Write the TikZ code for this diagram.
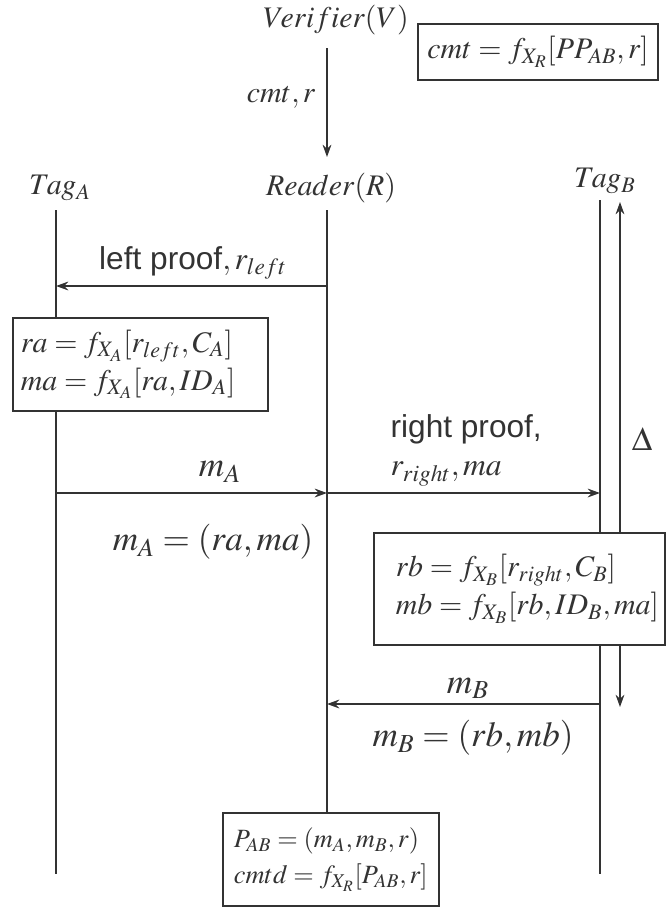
\documentclass[tikz,border=0pt]{standalone}
\usepackage{mathptmx}
\usepackage{fontspec}
\setsansfont{Liberation Sans}
\usetikzlibrary{arrows.meta}

\begin{document}
\begin{tikzpicture}[x=0.02cm, y=-0.02cm, >={Stealth[length=7pt, width=5pt]},
  line width=1pt, color=black!80,
  lbl/.style={font=\fontsize{17}{20}\selectfont, inner sep=1pt},
  msg/.style={font=\fontsize{20}{23}\selectfont, inner sep=1pt},
  word/.style={font=\fontsize{18}{22}\selectfont, inner sep=1pt, align=left},
  calcbox/.style={draw, fill=white, anchor=north west, align=left, inner ysep=0pt}]
\useasboundingbox (0,0) rectangle (667,907);
% participants
\node[lbl] (ver) at (336,20) {$Verifier(V)$};
\node[lbl] (taga) at (60,188) {$Tag_A$};
\node[lbl] (reader) at (331,188) {$Reader(R)$};
\node[lbl] (tagb) at (605,181) {$Tag_B$};
\coordinate (a0) at (56,210);  \coordinate (a1) at (56,874);
\coordinate (r0) at (327,210); \coordinate (r1) at (327,812);
\coordinate (b0) at (600,200); \coordinate (b1) at (600,874);
\coordinate (d0) at (620,202); \coordinate (d1) at (620,707);
\coordinate (v0) at (327,48);  \coordinate (v1) at (327,157);
% message rows
\coordinate (y1) at (0,286);
\coordinate (y2) at (0,493);
\coordinate (y3) at (0,704);
% lifelines
\draw (a0) -- (a1);
\draw (r0) -- (r1);
\draw (b0) -- (b1);
\draw[<->, line width=0.7pt] (d0) -- (d1);
\node[lbl, font=\fontsize{19}{22}\selectfont] (delta) at (642,439) {$\Delta$};
% verifier
\node[calcbox, anchor=center, align=center, minimum width=4.8cm, minimum height=1.12cm,
  font=\fontsize{17}{21}\selectfont] (cmt) at (538,52) {$cmt = f_{X_R}[PP_{AB}, r]$};
\draw[->] (v0) -- (v1);
\node[lbl] (cmtr) at (281,97) {$cmt, r$};
% left proof
\node[word] (lp) at (193,263) {{\sffamily left proof}$, r_{left}$};
\draw[->] (r0 |- y1) -- (a0 |- y1);
\node[calcbox, text width=4.78cm, inner xsep=0.16cm, minimum height=1.86cm,
  font=\fontsize{17}{21.5}\selectfont] (boxa) at (12,317)
  {\mbox{$ra = f_{X_A}[r_{left}, C_A]$}\\ \mbox{$ma = f_{X_A}[ra, ID_A]$}};
% m_A and right proof
\node[msg] (ma) at (220,472) {$m_A$};
\draw[->] (a0 |- y2) -- (r0 |- y2);
\node[msg] (maeq) at (213,542) {$m_A = (ra, ma)$};
\node[word, anchor=west] (rp) at (388,450) {{\sffamily right proof,}\\ $r_{right}, ma$};
\draw[->] (r0 |- y2) -- (b0 |- y2);
\node[calcbox, text width=4.94cm, inner xsep=0.44cm, minimum height=2.24cm,
  font=\fontsize{17}{21.5}\selectfont] (boxb) at (373,532)
  {\mbox{$rb = f_{X_B}[r_{right}, C_B]$}\\ \mbox{$mb = f_{X_B}[rb, ID_B, ma]$}};
% m_B
\node[msg] (mb) at (468,688) {$m_B$};
\draw[->] (b0 |- y3) -- (r0 |- y3);
\node[msg] (mbeq) at (473,738) {$m_B = (rb, mb)$};
% reader result
\node[calcbox, text width=3.88cm, inner xsep=0.22cm, minimum height=1.86cm,
  font=\fontsize{15}{20.5}\selectfont] (pab) at (222,812)
  {\mbox{$P_{AB} = (m_A, m_B, r)$}\\ \mbox{$cmtd = f_{X_R}[P_{AB}, r]$}};
\end{tikzpicture}
\end{document}
